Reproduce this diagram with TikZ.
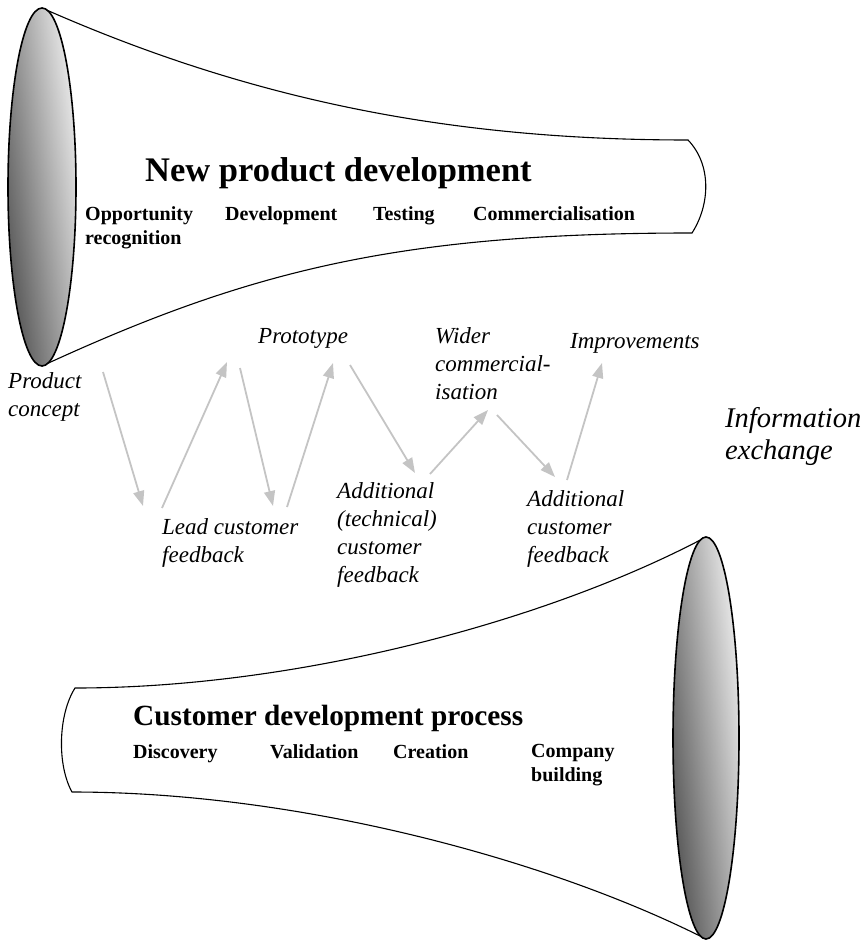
\documentclass[tikz,border=0pt]{standalone}
\usepackage{fontspec}
\setmainfont{Liberation Serif}
\usetikzlibrary{arrows.meta}
\begin{document}
\begin{tikzpicture}[x=1pt,y=-1pt,
  funnel/.style={draw=black,line width=1.1pt},
  mouthside/.style={left color=black!62,right color=white},
  mouthtop/.style={top color=white,bottom color=black,opacity=0.3},
  mouthrim/.style={draw=black,line width=1.6pt},
  flow/.style={draw=black!23,line width=1.8pt,-{Triangle[length=15pt,width=11pt]}},
  lbl/.style={font=\fontsize{23}{28}\selectfont\itshape,inner sep=0pt,anchor=north west,align=left},
  biglbl/.style={font=\fontsize{28.5}{32}\selectfont\itshape,inner sep=0pt,anchor=north west,align=left},
  stage/.style={font=\fontsize{20}{24}\selectfont\bfseries,inner sep=0pt,anchor=north west,align=left},
  title/.style={font=\bfseries,inner sep=0pt,anchor=base west}]
\useasboundingbox (0,0) rectangle (867,941);

% top funnel
\draw[funnel] (42,8) .. controls (250,100) and (450,140) .. (688,140)
  .. controls (712,165) and (710,205) .. (692,233)
  .. controls (400,233) and (250,270) .. (42,366);
\shade[mouthside] (42,187) ellipse [x radius=34, y radius=179];
\shade[mouthtop] (42,187) ellipse [x radius=34, y radius=179];
\draw[mouthrim] (42,187) ellipse [x radius=34, y radius=179];

% bottom funnel
\draw[funnel] (706,537) .. controls (550,620) and (300,688) .. (75,688)
  .. controls (58,715) and (57,765) .. (72,792)
  .. controls (300,792) and (550,860) .. (706,939);
\shade[mouthside] (706,738) ellipse [x radius=33, y radius=201];
\shade[mouthtop] (706,738) ellipse [x radius=33, y radius=201];
\draw[mouthrim] (706,738) ellipse [x radius=33, y radius=201];

% titles and stages
\node[title,font=\fontsize{34.5}{40}\selectfont\bfseries] (npd) at (145,182) {New product development};
\node[stage] (opp) at (85,206.5) {Opportunity\\recognition};
\node[stage] (dev) at (225,206.5) {Development};
\node[stage] (tst) at (373,206.5) {Testing};
\node[stage] (com) at (473,206.5) {Commercialisation};

\node[title,font=\fontsize{29.3}{34}\selectfont\bfseries] (cdp) at (133,725) {Customer development process};
\node[stage] (dis) at (133,744.5) {Discovery};
\node[stage] (val) at (270,744.5) {Validation};
\node[stage] (cre) at (393,744.5) {Creation};
\node[stage] (cob) at (531,744.5) {Company\\building};

% labels
\node[lbl] (pc) at (8,372) {Product\\concept};
\node[lbl] (pro) at (258,328) {Prototype};
\node[lbl] (lcf) at (162,518) {Lead customer\\feedback};
\node[lbl] (atc) at (337,482) {Additional\\(technical)\\customer\\feedback};
\node[lbl] (wc) at (435,327) {Wider\\commercial-\\isation};
\node[lbl] (imp) at (570,333) {Improvements};
\node[lbl] (acf) at (527,490) {Additional\\customer\\feedback};
\node[biglbl] (ie) at (725,407.5) {Information\\exchange};

% arrow end points
\coordinate (a1s) at (103,372); \coordinate (a1e) at (143,506);
\coordinate (a2s) at (162,508); \coordinate (a2e) at (227,362);
\coordinate (a3s) at (240,368); \coordinate (a3e) at (273,506);
\coordinate (a4s) at (287,507); \coordinate (a4e) at (333,363);
\coordinate (a5s) at (350,365); \coordinate (a5e) at (415,473);
\coordinate (a6s) at (430,474); \coordinate (a6e) at (488,410);
\coordinate (a7s) at (497,415); \coordinate (a7e) at (555,477);
\coordinate (a8s) at (567,480); \coordinate (a8e) at (602,363);

\draw[flow] (a1s) -- (a1e);
\draw[flow] (a2s) -- (a2e);
\draw[flow] (a3s) -- (a3e);
\draw[flow] (a4s) -- (a4e);
\draw[flow] (a5s) -- (a5e);
\draw[flow] (a6s) -- (a6e);
\draw[flow] (a7s) -- (a7e);
\draw[flow] (a8s) -- (a8e);
\end{tikzpicture}
\end{document}
